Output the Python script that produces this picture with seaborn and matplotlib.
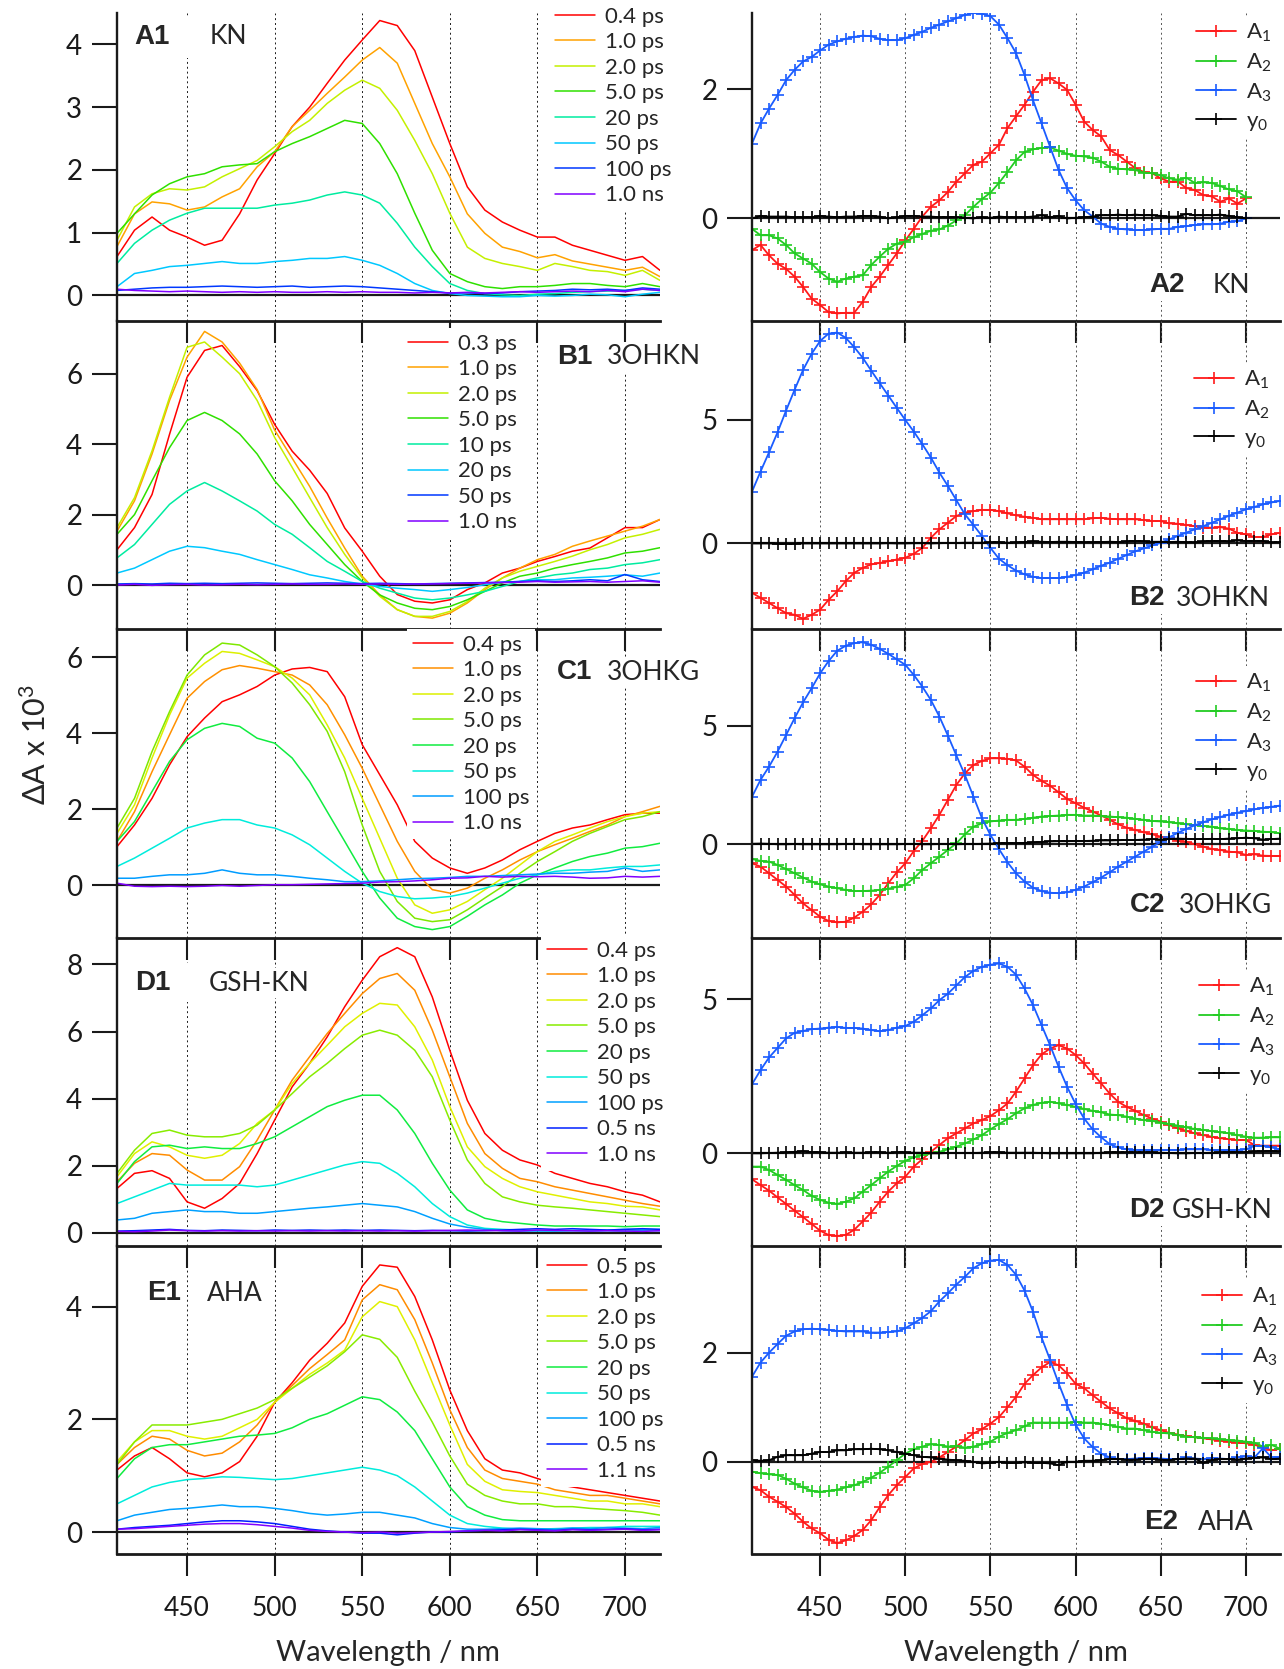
import numpy as np
import matplotlib
matplotlib.use("Agg")
import matplotlib.pyplot as plt
from matplotlib.patches import Rectangle
import seaborn as sns

# ---------------- data ----------------
wl10 = np.arange(410, 721, 10)   # left panels, transient spectra
wl5 = np.arange(410, 721, 5)     # right panels, DAS components
xticks = [450, 500, 550, 600, 650, 700]

# A1 KN
a1_labels = ["0.4 ps", "1.0 ps", "2.0 ps", "5.0 ps", "20 ps", "50 ps", "100 ps", "1.0 ns"]
a1_r = [0.62, 1.04, 1.25, 1.04, 0.93, 0.8, 0.88, 1.3, 1.84, 2.26, 2.69, 3.0, 3.38, 3.75, 4.07, 4.38, 4.3, 3.9, 3.16, 2.42, 1.73, 1.36, 1.17, 1.04, 0.93, 0.93, 0.8, 0.72, 0.64, 0.56, 0.62, 0.4]
a1_o = [0.78, 1.3, 1.49, 1.46, 1.36, 1.41, 1.57, 1.7, 2.05, 2.29, 2.69, 2.95, 3.22, 3.48, 3.75, 3.95, 3.7, 3.06, 2.42, 1.89, 1.3, 0.99, 0.77, 0.7, 0.6, 0.65, 0.55, 0.5, 0.45, 0.4, 0.45, 0.3]
a1_y = [0.88, 1.41, 1.62, 1.7, 1.68, 1.73, 1.89, 2.02, 2.15, 2.37, 2.61, 2.79, 3.06, 3.27, 3.43, 3.3, 2.95, 2.47, 1.94, 1.31, 0.77, 0.59, 0.51, 0.46, 0.4, 0.51, 0.46, 0.4, 0.38, 0.32, 0.4, 0.24]
a1_g = [0.99, 1.3, 1.6, 1.78, 1.89, 1.94, 2.05, 2.08, 2.1, 2.29, 2.42, 2.53, 2.66, 2.79, 2.74, 2.42, 1.94, 1.31, 0.72, 0.35, 0.22, 0.14, 0.11, 0.14, 0.14, 0.16, 0.19, 0.19, 0.16, 0.14, 0.19, 0.14]
a1_t = [0.51, 0.83, 1.04, 1.2, 1.31, 1.39, 1.39, 1.39, 1.39, 1.44, 1.47, 1.52, 1.6, 1.65, 1.6, 1.47, 1.15, 0.77, 0.46, 0.19, 0.08, 0.03, 0.01, 0.0, 0.02, 0.03, 0.05, 0.06, 0.07, 0.08, 0.1, 0.08]
a1_c = [0.14, 0.35, 0.4, 0.46, 0.48, 0.51, 0.54, 0.51, 0.51, 0.54, 0.56, 0.59, 0.59, 0.62, 0.56, 0.48, 0.35, 0.19, 0.08, 0.03, 0.0, -0.01, -0.02, -0.02, 0.0, -0.01, 0.0, 0.02, 0.01, -0.02, 0.02, 0.05]
a1_b = [0.08, 0.1, 0.12, 0.13, 0.13, 0.14, 0.15, 0.14, 0.13, 0.14, 0.15, 0.13, 0.14, 0.15, 0.14, 0.12, 0.1, 0.08, 0.06, 0.04, 0.04, 0.03, 0.04, 0.06, 0.07, 0.08, 0.1, 0.09, 0.1, 0.08, 0.12, 0.1]
a1_v = [0.1, 0.08, 0.07, 0.06, 0.07, 0.06, 0.05, 0.06, 0.05, 0.06, 0.05, 0.05, 0.06, 0.05, 0.06, 0.05, 0.05, 0.04, 0.05, 0.04, 0.05, 0.04, 0.05, 0.06, 0.05, 0.06, 0.07, 0.06, 0.08, 0.06, 0.1, 0.08]

# B1 3OHKN
b1_labels = ["0.3 ps", "1.0 ps", "2.0 ps", "5.0 ps", "10 ps", "20 ps", "50 ps", "1.0 ns"]
b1_r = [1.0, 1.63, 2.57, 4.28, 5.9, 6.66, 6.8, 6.2, 5.52, 4.56, 3.8, 3.26, 2.6, 1.62, 0.96, 0.25, -0.27, -0.46, -0.51, -0.42, -0.13, 0.06, 0.34, 0.48, 0.67, 0.81, 0.96, 1.05, 1.34, 1.63, 1.63, 1.86]
b1_o = [1.53, 2.39, 3.72, 5.24, 6.47, 7.2, 6.9, 6.3, 5.55, 4.4, 3.6, 2.8, 1.9, 1.05, 0.25, -0.28, -0.7, -0.89, -0.94, -0.8, -0.51, -0.13, 0.2, 0.48, 0.72, 0.87, 1.1, 1.25, 1.39, 1.53, 1.67, 1.86]
b1_y = [1.63, 2.48, 3.81, 5.33, 6.75, 6.9, 6.47, 6.0, 5.24, 4.19, 3.34, 2.48, 1.63, 0.87, 0.2, -0.32, -0.7, -0.89, -0.89, -0.75, -0.47, -0.09, 0.2, 0.39, 0.53, 0.67, 0.82, 1.0, 1.15, 1.34, 1.44, 1.58]
b1_g = [1.44, 2.0, 2.96, 3.9, 4.67, 4.9, 4.67, 4.29, 3.72, 2.96, 2.39, 1.72, 1.15, 0.58, 0.1, -0.28, -0.51, -0.66, -0.7, -0.61, -0.42, -0.18, 0.06, 0.25, 0.34, 0.48, 0.58, 0.67, 0.77, 0.91, 0.96, 1.06]
b1_t = [0.77, 1.15, 1.72, 2.29, 2.67, 2.91, 2.67, 2.39, 2.1, 1.72, 1.44, 1.06, 0.67, 0.39, 0.1, -0.09, -0.23, -0.37, -0.42, -0.37, -0.28, -0.18, -0.04, 0.1, 0.2, 0.29, 0.34, 0.44, 0.48, 0.58, 0.63, 0.72]
b1_c = [0.34, 0.48, 0.72, 0.96, 1.1, 1.06, 0.96, 0.87, 0.72, 0.58, 0.44, 0.29, 0.2, 0.1, 0.03, -0.04, -0.09, -0.13, -0.18, -0.13, -0.07, 0.01, 0.08, 0.1, 0.15, 0.15, 0.2, 0.22, 0.25, 0.29, 0.25, 0.34]
b1_b = [0.03, 0.04, 0.03, 0.05, 0.04, 0.05, 0.04, 0.05, 0.06, 0.05, 0.04, 0.05, 0.06, 0.05, 0.04, 0.05, 0.04, 0.03, 0.04, 0.05, 0.06, 0.07, 0.08, 0.1, 0.12, 0.1, 0.12, 0.15, 0.12, 0.3, 0.15, 0.1]
b1_v = [0.0, 0.02, -0.01, 0.01, 0.02, 0.0, 0.01, 0.02, 0.01, 0.02, 0.03, 0.02, 0.02, 0.03, 0.02, 0.03, 0.02, 0.03, 0.03, 0.04, 0.05, 0.06, 0.07, 0.08, 0.1, 0.08, 0.09, 0.1, 0.08, 0.1, 0.12, 0.08]

# C1 3OHKG
c1_labels = ["0.4 ps", "1.0 ps", "2.0 ps", "5.0 ps", "20 ps", "50 ps", "100 ps", "1.0 ns"]
c1_r = [1.02, 1.59, 2.29, 3.17, 3.91, 4.4, 4.83, 5.01, 5.23, 5.53, 5.69, 5.73, 5.62, 4.96, 3.7, 2.91, 2.12, 1.16, 0.72, 0.46, 0.32, 0.46, 0.67, 0.94, 1.16, 1.37, 1.51, 1.59, 1.73, 1.86, 1.9, 1.9]
c1_o = [1.16, 1.94, 2.99, 3.96, 4.92, 5.36, 5.67, 5.78, 5.71, 5.62, 5.53, 5.27, 4.75, 3.96, 3.08, 2.12, 1.16, 0.37, -0.11, -0.2, -0.07, 0.19, 0.41, 0.67, 0.89, 1.07, 1.24, 1.42, 1.59, 1.81, 1.94, 2.08]
c1_y = [1.37, 2.12, 3.35, 4.48, 5.45, 5.84, 6.15, 6.1, 5.93, 5.75, 5.45, 5.01, 4.22, 3.35, 2.29, 1.24, 0.19, -0.51, -0.73, -0.64, -0.42, -0.11, 0.19, 0.54, 0.89, 1.16, 1.33, 1.51, 1.68, 1.81, 1.9, 1.94]
c1_l = [1.51, 2.29, 3.52, 4.57, 5.53, 6.06, 6.37, 6.32, 6.06, 5.75, 5.32, 4.75, 4.05, 2.99, 1.59, 0.37, -0.42, -0.86, -0.95, -0.9, -0.64, -0.33, -0.03, 0.32, 0.63, 0.89, 1.16, 1.37, 1.55, 1.73, 1.81, 1.94]
c1_g = [1.16, 1.68, 2.47, 3.26, 3.83, 4.13, 4.26, 4.18, 3.87, 3.74, 3.35, 2.73, 1.94, 1.16, 0.37, -0.33, -0.86, -1.08, -1.16, -1.08, -0.81, -0.51, -0.25, 0.06, 0.28, 0.46, 0.63, 0.76, 0.85, 0.98, 1.02, 1.11]
c1_c = [0.5, 0.72, 0.98, 1.24, 1.51, 1.64, 1.73, 1.73, 1.59, 1.51, 1.33, 1.07, 0.72, 0.37, 0.06, -0.16, -0.29, -0.35, -0.33, -0.29, -0.2, -0.07, 0.06, 0.19, 0.28, 0.37, 0.41, 0.41, 0.46, 0.5, 0.5, 0.54]
c1_s = [0.19, 0.19, 0.24, 0.28, 0.28, 0.32, 0.41, 0.32, 0.28, 0.28, 0.24, 0.19, 0.15, 0.1, 0.1, 0.12, 0.15, 0.18, 0.19, 0.21, 0.24, 0.24, 0.26, 0.28, 0.3, 0.32, 0.32, 0.35, 0.37, 0.46, 0.37, 0.41]
c1_v = [0.06, -0.02, -0.03, -0.02, -0.03, -0.02, 0.0, -0.02, 0.0, 0.02, 0.02, 0.03, 0.04, 0.05, 0.06, 0.09, 0.1, 0.12, 0.15, 0.19, 0.2, 0.24, 0.22, 0.24, 0.23, 0.24, 0.22, 0.19, 0.2, 0.24, 0.22, 0.24]

# D1 GSH-KN
d1_labels = ["0.4 ps", "1.0 ps", "2.0 ps", "5.0 ps", "20 ps", "50 ps", "100 ps", "0.5 ns", "1.0 ns"]
d1_r = [1.32, 1.77, 1.85, 1.62, 0.92, 0.73, 1.02, 1.47, 2.36, 3.36, 4.35, 5.05, 5.84, 6.74, 7.53, 8.23, 8.5, 8.23, 7.03, 5.44, 3.95, 2.96, 2.46, 2.17, 2.02, 1.77, 1.62, 1.47, 1.37, 1.22, 1.12, 0.92]
d1_o = [1.52, 2.07, 2.36, 2.31, 1.87, 1.57, 1.57, 1.97, 2.76, 3.66, 4.55, 5.25, 5.94, 6.54, 7.13, 7.58, 7.73, 7.23, 6.04, 4.65, 3.26, 2.36, 1.92, 1.62, 1.52, 1.37, 1.27, 1.17, 1.07, 0.97, 0.87, 0.79]
d1_y = [1.67, 2.36, 2.71, 2.56, 2.31, 2.22, 2.31, 2.66, 3.26, 3.66, 4.45, 5.05, 5.59, 6.14, 6.54, 6.84, 6.79, 6.14, 5.15, 3.76, 2.56, 1.97, 1.62, 1.37, 1.22, 1.12, 1.02, 0.92, 0.87, 0.79, 0.77, 0.68]
d1_l = [1.77, 2.46, 2.96, 3.06, 2.91, 2.86, 2.86, 2.96, 3.21, 3.66, 4.15, 4.65, 5.05, 5.49, 5.89, 6.04, 5.89, 5.44, 4.65, 3.36, 2.17, 1.47, 1.07, 0.92, 0.82, 0.77, 0.73, 0.68, 0.63, 0.58, 0.53, 0.48]
d1_g = [1.47, 2.12, 2.56, 2.61, 2.51, 2.56, 2.51, 2.51, 2.66, 2.86, 3.16, 3.46, 3.76, 3.95, 4.1, 4.1, 3.66, 2.96, 2.07, 1.27, 0.68, 0.43, 0.33, 0.28, 0.23, 0.2, 0.2, 0.2, 0.2, 0.18, 0.2, 0.2]
d1_a = [0.87, 1.07, 1.27, 1.47, 1.42, 1.42, 1.42, 1.42, 1.37, 1.42, 1.57, 1.72, 1.87, 2.02, 2.12, 2.07, 1.77, 1.37, 0.87, 0.48, 0.23, 0.13, 0.1, 0.08, 0.07, 0.06, 0.07, 0.08, 0.08, 0.1, 0.1, 0.1]
d1_s = [0.38, 0.43, 0.58, 0.63, 0.68, 0.63, 0.63, 0.58, 0.58, 0.63, 0.68, 0.73, 0.77, 0.82, 0.87, 0.82, 0.77, 0.63, 0.43, 0.26, 0.16, 0.1, 0.06, 0.05, 0.05, 0.05, 0.06, 0.05, 0.06, 0.05, 0.07, 0.06]
d1_b = [0.05, 0.06, 0.08, 0.1, 0.07, 0.06, 0.08, 0.07, 0.06, 0.08, 0.07, 0.08, 0.07, 0.08, 0.07, 0.08, 0.07, 0.06, 0.07, 0.06, 0.05, 0.06, 0.08, 0.1, 0.12, 0.1, 0.12, 0.1, 0.08, 0.1, 0.12, 0.1]
d1_v = [0.04, 0.03, 0.05, 0.08, 0.06, 0.05, 0.06, 0.05, 0.06, 0.05, 0.06, 0.05, 0.06, 0.05, 0.06, 0.05, 0.06, 0.05, 0.06, 0.07, 0.08, 0.07, 0.06, 0.05, 0.08, 0.07, 0.06, 0.05, 0.06, 0.05, 0.04, 0.06]

# E1 AHA
e1_labels = ["0.5 ps", "1.0 ps", "2.0 ps", "5.0 ps", "20 ps", "50 ps", "100 ps", "0.5 ns", "1.1 ns"]
e1_r = [1.1, 1.35, 1.5, 1.3, 1.05, 0.98, 1.05, 1.25, 1.7, 2.3, 2.65, 3.05, 3.35, 3.71, 4.36, 4.74, 4.7, 4.18, 3.41, 2.52, 1.8, 1.3, 1.1, 1.05, 0.95, 0.85, 0.8, 0.75, 0.7, 0.65, 0.6, 0.55]
e1_o = [1.2, 1.5, 1.7, 1.65, 1.45, 1.35, 1.4, 1.6, 1.9, 2.3, 2.6, 2.9, 3.15, 3.41, 4.12, 4.39, 4.3, 3.77, 3.0, 2.17, 1.5, 1.1, 0.95, 0.9, 0.85, 0.75, 0.7, 0.65, 0.65, 0.6, 0.55, 0.5]
e1_y = [1.25, 1.6, 1.8, 1.8, 1.7, 1.65, 1.7, 1.85, 2.0, 2.3, 2.55, 2.8, 3.0, 3.23, 3.82, 4.09, 4.0, 3.41, 2.65, 1.9, 1.2, 0.9, 0.75, 0.72, 0.7, 0.65, 0.6, 0.55, 0.55, 0.5, 0.5, 0.45]
e1_l = [1.2, 1.6, 1.9, 1.9, 1.9, 1.95, 2.0, 2.1, 2.2, 2.35, 2.55, 2.75, 2.95, 3.2, 3.5, 3.42, 3.1, 2.5, 1.95, 1.35, 0.85, 0.65, 0.55, 0.5, 0.5, 0.45, 0.45, 0.42, 0.4, 0.38, 0.35, 0.3]
e1_g = [0.95, 1.3, 1.5, 1.55, 1.55, 1.6, 1.65, 1.7, 1.72, 1.75, 1.85, 2.0, 2.1, 2.25, 2.4, 2.35, 2.13, 1.8, 1.3, 0.8, 0.45, 0.3, 0.22, 0.2, 0.2, 0.2, 0.2, 0.2, 0.2, 0.2, 0.2, 0.2]
e1_a = [0.5, 0.65, 0.8, 0.88, 0.93, 0.95, 0.98, 0.97, 0.95, 0.93, 0.95, 1.0, 1.05, 1.1, 1.15, 1.1, 1.0, 0.8, 0.55, 0.3, 0.15, 0.1, 0.07, 0.05, 0.05, 0.06, 0.07, 0.08, 0.08, 0.1, 0.1, 0.1]
e1_s = [0.2, 0.3, 0.35, 0.4, 0.42, 0.45, 0.48, 0.45, 0.45, 0.42, 0.38, 0.33, 0.3, 0.32, 0.35, 0.35, 0.3, 0.25, 0.15, 0.08, 0.05, 0.05, 0.06, 0.07, 0.06, 0.05, 0.07, 0.06, 0.08, 0.07, 0.06, 0.08]
e1_b = [0.05, 0.08, 0.1, 0.12, 0.15, 0.18, 0.2, 0.2, 0.18, 0.15, 0.1, 0.05, 0.02, 0.0, -0.02, -0.02, -0.05, -0.02, 0.0, 0.0, 0.02, 0.03, 0.04, 0.05, 0.04, 0.03, 0.05, 0.04, 0.05, 0.06, 0.04, 0.05]
e1_v = [0.05, 0.06, 0.08, 0.1, 0.12, 0.14, 0.15, 0.15, 0.13, 0.1, 0.07, 0.03, 0.01, 0.0, -0.01, 0.0, -0.02, -0.01, 0.0, 0.01, 0.02, 0.03, 0.02, 0.04, 0.03, 0.02, 0.04, 0.03, 0.04, 0.05, 0.03, 0.04]

# A2 KN (410-700 nm)
a2_A1 = [-0.49, -0.41, -0.57, -0.7, -0.78, -0.9, -1.06, -1.24, -1.34, -1.45,
         -1.47, -1.46, -1.46, -1.29, -1.06, -0.9, -0.72, -0.54, -0.34, -0.16,
         0.03, 0.18, 0.28, 0.41, 0.57, 0.7, 0.83, 0.88, 1.01, 1.14,
         1.4, 1.58, 1.76, 1.96, 2.14, 2.17, 2.09, 1.99, 1.76, 1.5,
         1.37, 1.27, 1.06, 0.98, 0.88, 0.78, 0.72, 0.7, 0.62, 0.57,
         0.57, 0.47, 0.44, 0.36, 0.34, 0.26, 0.31, 0.23, 0.31]
a2_A2 = [-0.16, -0.26, -0.26, -0.31, -0.41, -0.54, -0.62, -0.7, -0.83, -0.93,
         -0.98, -0.93, -0.9, -0.88, -0.72, -0.59, -0.47, -0.39, -0.36, -0.29,
         -0.24, -0.19, -0.17, -0.11, -0.03, 0.05, 0.18, 0.3, 0.4, 0.55,
         0.72, 0.9, 1.03, 1.07, 1.09, 1.1, 1.05, 1.0, 0.97, 0.96,
         0.94, 0.88, 0.8, 0.77, 0.76, 0.75, 0.71, 0.7, 0.67, 0.62,
         0.6, 0.63, 0.55, 0.56, 0.55, 0.5, 0.45, 0.42, 0.33]
a2_A3 = [1.16, 1.47, 1.7, 1.91, 2.14, 2.3, 2.43, 2.5, 2.6, 2.69,
         2.74, 2.78, 2.81, 2.83, 2.82, 2.78, 2.76, 2.76, 2.79, 2.84,
         2.89, 2.95, 3.0, 3.05, 3.1, 3.15, 3.18, 3.17, 3.13, 3.0,
         2.79, 2.56, 2.22, 1.83, 1.47, 1.11, 0.75, 0.47, 0.28, 0.13,
         0.03, -0.08, -0.13, -0.16, -0.17, -0.18, -0.18, -0.17, -0.16, -0.16,
         -0.13, -0.12, -0.1, -0.09, -0.09, -0.08, -0.05, -0.04, 0.0]
a2_y0 = [0.0, 0.04, 0.03, 0.03, 0.03, 0.02, 0.02, 0.02, 0.04, 0.03,
         0.02, 0.03, 0.03, 0.04, 0.04, 0.03, 0.0, 0.02, 0.04, 0.04,
         0.03, 0.03, 0.02, 0.02, 0.02, 0.01, 0.0, 0.02, 0.01, 0.03,
         0.02, 0.02, 0.02, 0.03, 0.05, 0.02, 0.04, 0.0, 0.01, 0.02,
         0.03, 0.05, 0.05, 0.06, 0.05, 0.06, 0.05, 0.05, 0.04, 0.03,
         0.03, 0.07, 0.05, 0.05, 0.05, 0.06, 0.04, 0.02, 0.0]

# B2 3OHKN
b2_A1 = [-2.0, -2.2, -2.41, -2.62, -2.82, -2.89, -3.05, -2.89, -2.68, -2.28,
         -1.94, -1.53, -1.19, -0.99, -0.85, -0.79, -0.72, -0.65, -0.58, -0.42,
         -0.18, 0.23, 0.57, 0.84, 1.11, 1.25, 1.31, 1.36, 1.36, 1.31,
         1.22, 1.14, 1.08, 1.04, 0.98, 0.98, 0.98, 0.98, 0.98, 0.98,
         1.02, 1.04, 1.0, 0.98, 0.98, 0.98, 0.95, 0.91, 0.91, 0.81,
         0.8, 0.75, 0.7, 0.64, 0.64, 0.66, 0.6, 0.43, 0.37, 0.26,
         0.26, 0.37, 0.43]
b2_A2 = [2.1, 2.91, 3.69, 4.5, 5.38, 6.22, 7.03, 7.68, 8.2, 8.5,
         8.54, 8.33, 7.95, 7.52, 7.0, 6.49, 5.99, 5.49, 5.0, 4.53,
         4.02, 3.48, 2.87, 2.33, 1.75, 1.18, 0.75, 0.3, -0.18, -0.62,
         -0.88, -1.1, -1.25, -1.35, -1.4, -1.4, -1.4, -1.35, -1.28, -1.18,
         -1.05, -0.9, -0.78, -0.62, -0.47, -0.32, -0.2, -0.08, 0.03, 0.17,
         0.3, 0.44, 0.57, 0.7, 0.84, 0.98, 1.12, 1.25, 1.38, 1.48,
         1.58, 1.66, 1.72]
b2_y0 = [0.0, 0.0, 0.0, -0.01, -0.01, -0.01, 0.0, 0.0, 0.0, 0.0,
         0.0, 0.0, 0.0, 0.0, 0.0, 0.0, 0.01, 0.0, 0.0, 0.01,
         0.01, 0.0, 0.01, 0.02, 0.02, 0.03, 0.03, 0.03, 0.04, 0.05,
         0.03, 0.04, 0.06, 0.08, 0.07, 0.06, 0.07, 0.07, 0.06, 0.05,
         0.05, 0.06, 0.07, 0.06, 0.08, 0.1, 0.09, 0.07, 0.07, 0.06,
         0.07, 0.05, 0.04, 0.08, 0.1, 0.1, 0.08, 0.12, 0.1, 0.1,
         0.1, 0.04, 0.05]

# C2 3OHKG
c2_A1 = [-0.8, -0.94, -1.22, -1.5, -1.78, -2.13, -2.49, -2.77, -3.05, -3.23,
         -3.29, -3.26, -3.09, -2.84, -2.53, -2.13, -1.64, -1.18, -0.8, -0.28,
         0.14, 0.67, 1.24, 1.87, 2.5, 2.99, 3.34, 3.51, 3.62, 3.62,
         3.6, 3.53, 3.27, 2.92, 2.67, 2.47, 2.19, 1.91, 1.73, 1.54,
         1.38, 1.21, 1.03, 0.84, 0.7, 0.6, 0.51, 0.42, 0.32, 0.25,
         0.15, 0.11, 0.0, -0.1, -0.2, -0.24, -0.31, -0.34, -0.45, -0.42,
         -0.48, -0.49, -0.49]
c2_A2 = [-0.62, -0.7, -0.73, -0.87, -1.04, -1.22, -1.4, -1.57, -1.69, -1.78,
         -1.85, -1.92, -1.97, -1.97, -1.95, -1.92, -1.87, -1.8, -1.71, -1.43,
         -1.08, -0.8, -0.52, -0.24, 0.04, 0.42, 0.74, 0.88, 0.96, 1.0,
         1.03, 1.03, 1.07, 1.12, 1.17, 1.19, 1.21, 1.24, 1.24, 1.21,
         1.21, 1.19, 1.17, 1.14, 1.12, 1.07, 1.03, 0.98, 0.96, 0.93,
         0.88, 0.84, 0.81, 0.77, 0.74, 0.67, 0.65, 0.6, 0.58, 0.56,
         0.53, 0.51, 0.46]
c2_A3 = [2.0, 2.71, 3.27, 3.9, 4.6, 5.31, 5.98, 6.57, 7.2, 7.72,
         8.15, 8.36, 8.47, 8.51, 8.4, 8.23, 8.02, 7.79, 7.56, 7.13,
         6.64, 6.08, 5.38, 4.58, 3.74, 2.92, 2.01, 1.1, 0.39, -0.2,
         -0.76, -1.22, -1.57, -1.83, -1.97, -2.04, -2.06, -2.02, -1.92, -1.78,
         -1.6, -1.4, -1.18, -0.94, -0.73, -0.52, -0.31, -0.1, 0.1, 0.3,
         0.48, 0.65, 0.8, 0.93, 1.05, 1.15, 1.25, 1.33, 1.4, 1.47,
         1.53, 1.58, 1.63]
c2_y0 = [0.02, 0.03, 0.02, 0.0, 0.0, 0.01, 0.0, 0.0, 0.0, 0.0,
         0.0, 0.01, 0.02, 0.0, 0.0, 0.0, 0.0, 0.0, 0.01, 0.01,
         0.0, 0.0, 0.01, 0.01, 0.0, 0.01, 0.01, 0.02, 0.03, 0.04,
         0.05, 0.05, 0.06, 0.08, 0.1, 0.12, 0.13, 0.13, 0.14, 0.14,
         0.15, 0.16, 0.16, 0.17, 0.18, 0.18, 0.2, 0.22, 0.2, 0.22,
         0.24, 0.23, 0.22, 0.22, 0.23, 0.22, 0.24, 0.25, 0.28, 0.25,
         0.2, 0.22, 0.24]

# D2 GSH-KN
d2_A1 = [-0.84, -1.03, -1.21, -1.43, -1.64, -1.86, -2.07, -2.29, -2.51, -2.65,
         -2.68, -2.65, -2.48, -2.21, -1.92, -1.57, -1.24, -0.97, -0.76, -0.43,
         -0.19, 0.05, 0.27, 0.49, 0.65, 0.81, 0.97, 1.08, 1.21, 1.4,
         1.62, 2.0, 2.43, 2.86, 3.21, 3.4, 3.51, 3.4, 3.19, 2.92,
         2.59, 2.27, 1.94, 1.67, 1.51, 1.38, 1.24, 1.13, 1.03, 0.92,
         0.81, 0.73, 0.65, 0.59, 0.54, 0.49, 0.46, 0.43, 0.43, 0.27,
         0.25, 0.25, 0.25]
d2_A2 = [-0.43, -0.43, -0.54, -0.7, -0.86, -1.03, -1.19, -1.38, -1.51, -1.6,
         -1.64, -1.57, -1.46, -1.24, -1.03, -0.81, -0.59, -0.41, -0.24, -0.13,
         -0.05, 0.0, 0.05, 0.13, 0.22, 0.32, 0.45, 0.59, 0.78, 0.95,
         1.11, 1.3, 1.46, 1.57, 1.64, 1.67, 1.62, 1.57, 1.51, 1.44,
         1.38, 1.33, 1.26, 1.24, 1.19, 1.13, 1.08, 1.05, 1.0, 0.95,
         0.9, 0.84, 0.79, 0.76, 0.72, 0.68, 0.65, 0.59, 0.54, 0.51,
         0.51, 0.52, 0.52]
d2_A3 = [2.24, 2.7, 3.11, 3.42, 3.73, 3.91, 3.97, 4.03, 4.05, 4.08,
         4.1, 4.07, 4.07, 4.05, 4.0, 3.96, 4.0, 4.08, 4.13, 4.27,
         4.48, 4.7, 4.97, 5.18, 5.45, 5.72, 5.92, 6.05, 6.12, 6.16,
         6.05, 5.8, 5.35, 4.81, 4.16, 3.51, 2.81, 2.16, 1.6, 1.13,
         0.78, 0.52, 0.3, 0.19, 0.13, 0.11, 0.11, 0.11, 0.11, 0.11,
         0.11, 0.13, 0.13, 0.13, 0.11, 0.11, 0.11, 0.11, 0.13, 0.24,
         0.24, 0.19, 0.13]
d2_y0 = [0.0, 0.0, 0.01, 0.02, 0.03, 0.05, 0.07, 0.04, 0.03, 0.02,
         0.02, 0.03, 0.02, 0.02, 0.03, 0.03, 0.02, 0.03, 0.03, 0.02,
         0.02, 0.0, 0.0, 0.01, 0.01, 0.01, 0.01, 0.02, 0.03, 0.03,
         0.02, 0.02, 0.02, 0.02, 0.01, 0.0, 0.0, 0.0, 0.0, 0.0,
         0.0, 0.02, 0.03, 0.03, 0.03, 0.03, 0.03, 0.03, 0.02, 0.01,
         0.0, 0.0, 0.01, 0.01, 0.02, 0.03, 0.04, 0.04, 0.04, 0.06,
         0.07, 0.08, 0.06]

# E2 AHA
e2_A1 = [-0.46, -0.52, -0.64, -0.73, -0.83, -0.95, -1.1, -1.22, -1.31, -1.43,
         -1.49, -1.44, -1.36, -1.25, -1.07, -0.83, -0.61, -0.43, -0.28, -0.12,
         -0.04, 0.0, 0.08, 0.18, 0.28, 0.4, 0.52, 0.6, 0.7, 0.82,
         1.0, 1.19, 1.43, 1.59, 1.73, 1.83, 1.77, 1.62, 1.43, 1.35,
         1.22, 1.1, 0.98, 0.89, 0.8, 0.75, 0.7, 0.63, 0.58, 0.53,
         0.5, 0.47, 0.45, 0.43, 0.41, 0.39, 0.37, 0.35, 0.34, 0.31,
         0.27, 0.21, 0.24]
e2_A2 = [-0.18, -0.21, -0.23, -0.24, -0.31, -0.4, -0.47, -0.53, -0.55, -0.53,
         -0.51, -0.47, -0.43, -0.37, -0.29, -0.2, -0.09, 0.03, 0.15, 0.23,
         0.28, 0.32, 0.31, 0.28, 0.29, 0.26, 0.28, 0.32, 0.37, 0.46,
         0.53, 0.58, 0.65, 0.72, 0.72, 0.72, 0.72, 0.72, 0.73, 0.72,
         0.72, 0.7, 0.67, 0.64, 0.61, 0.61, 0.58, 0.55, 0.53, 0.52,
         0.49, 0.46, 0.45, 0.44, 0.43, 0.41, 0.4, 0.39, 0.37, 0.35,
         0.28, 0.31, 0.24]
e2_A3 = [1.56, 1.82, 2.0, 2.16, 2.31, 2.39, 2.43, 2.44, 2.43, 2.42,
         2.4, 2.39, 2.39, 2.39, 2.37, 2.37, 2.38, 2.39, 2.45, 2.54,
         2.64, 2.76, 2.94, 3.09, 3.25, 3.39, 3.55, 3.64, 3.69, 3.7,
         3.61, 3.43, 3.14, 2.75, 2.28, 1.87, 1.44, 1.04, 0.68, 0.43,
         0.27, 0.15, 0.08, 0.05, 0.05, 0.06, 0.07, 0.07, 0.06, 0.05,
         0.05, 0.08, 0.06, 0.05, 0.07, 0.06, 0.05, 0.08, 0.1, 0.08,
         0.25, 0.08, 0.09]
e2_y0 = [0.03, 0.02, 0.03, 0.09, 0.12, 0.12, 0.12, 0.15, 0.18, 0.18,
         0.21, 0.21, 0.23, 0.23, 0.24, 0.23, 0.21, 0.18, 0.15, 0.12,
         0.09, 0.08, 0.06, 0.04, 0.03, 0.02, 0.0, -0.03, -0.02, 0.0,
         -0.02, -0.02, -0.01, -0.02, -0.02, -0.03, -0.06, 0.0, 0.0, 0.02,
         0.02, 0.03, 0.05, 0.05, 0.04, 0.04, 0.05, 0.05, 0.04, 0.03,
         0.05, 0.06, 0.06, -0.02, 0.03, 0.05, 0.05, 0.04, 0.06, 0.07,
         0.08, 0.05, 0.06]

# ---------------- style ----------------
pal8_ab = ["#ff0000", "#ffa200", "#c4f000", "#2fe000", "#00eca0", "#00c8ff", "#0038ff", "#8000ff"]
pal8_c = ["#ff0000", "#ff9000", "#dcf000", "#7ee800", "#10ec40", "#00ecdc", "#009cff", "#8000ff"]
pal9 = ["#ff0000", "#ff8c00", "#e0f000", "#88ec00", "#10ec40", "#00ecdc", "#00a0ff", "#0020ff", "#8000ff"]
das_colors = {"A$_1$": "#ff1a1a", "A$_2$": "#22cc22", "A$_3$": "#1a5cff", "y$_0$": "black"}
b2_colors = {"A$_1$": "#ff1a1a", "A$_2$": "#1a5cff", "y$_0$": "black"}

sns.set_theme(style="white")
plt.rcParams["font.family"] = ["Lato", "DejaVu Sans"]
plt.rcParams["mathtext.fontset"] = "custom"
plt.rcParams["mathtext.rm"] = "Lato"
plt.rcParams["mathtext.it"] = "Lato:italic"
plt.rcParams["mathtext.bf"] = "Lato:bold"

W, H = 1284, 1669
fig = plt.figure(figsize=(W / 100, H / 100), dpi=100)


def fx(px):
    return px / W


def fy(py):
    return 1 - py / H


PH = 308.2
tops = [13, 13 + PH, 13 + 2 * PH, 13 + 3 * PH, 13 + 4 * PH]


def style_axis(ax, ylim, yticks, bottom, gridcolor):
    ax.set_facecolor("none")
    ax.set_xlim(410, 720)
    ax.set_ylim(*ylim)
    ax.set_xticks(xticks)
    ax.set_yticks(yticks)
    for s in ["top", "right"]:
        ax.spines[s].set_visible(False)
    ax.spines["left"].set_linewidth(1.7)
    ax.spines["bottom"].set_linewidth(2.0)
    ax.spines["left"].set_color("k")
    ax.spines["bottom"].set_color("k")
    ax.tick_params(axis="y", left=True, direction="out", length=18, width=1.5,
                   labelsize=20, pad=7, colors="k")
    ax.tick_params(axis="x", bottom=True, direction="out", length=16, width=1.5,
                   labelsize=19, pad=14, colors="k", labelbottom=bottom)
    ax.grid(True, axis="x", color=gridcolor, ls=(0, (2, 3)), lw=0.7)
    ax.grid(False, axis="y")
    ax.set_axisbelow(True)
    ax.axhline(0, color="k", lw=1.6, zorder=1.5)
    ax.set_xlabel("")
    ax.set_ylabel("")


def add_legend(ax, x0, y0, labelspacing):
    ax.legend(loc="upper left", bbox_to_anchor=(fx(x0), fy(y0)),
              bbox_transform=fig.transFigure, borderaxespad=0, borderpad=0.25,
              frameon=True, fancybox=False, edgecolor="none", facecolor="white",
              framealpha=1, handlelength=1.8, handletextpad=0.45,
              labelspacing=labelspacing, fontsize=16)


def panel_label(x_bold, y, bold, x_name, name):
    fig.text(fx(x_bold), fy(y), bold, fontsize=20, fontweight="bold",
             family=["Liberation Sans", "DejaVu Sans"], ha="left", va="center",
             bbox=dict(facecolor="white", edgecolor="none", pad=2))
    fig.text(fx(x_name), fy(y), name, fontsize=19, ha="left", va="center",
             bbox=dict(facecolor="white", edgecolor="none", pad=2))


def white_gap(x0, y0, x1, y1):
    # blank strip between a panel tag and its sample name (hides the grid line)
    fig.add_artist(Rectangle((fx(x0), fy(y1)), (x1 - x0) / W, (y1 - y0) / H,
                             transform=fig.transFigure, facecolor="white",
                             edgecolor="none", zorder=1))


# ---------------- left column ----------------
left_panels = [
    ([a1_r, a1_o, a1_y, a1_g, a1_t, a1_c, a1_b, a1_v], a1_labels, pal8_ab,
     (-0.41, 4.5), [0, 1, 2, 3, 4], (549, 1)),
    ([b1_r, b1_o, b1_y, b1_g, b1_t, b1_c, b1_b, b1_v], b1_labels, pal8_ab,
     (-1.26, 7.49), [0, 2, 4, 6], (402, 328)),
    ([c1_r, c1_o, c1_y, c1_l, c1_g, c1_c, c1_s, c1_v], c1_labels, pal8_c,
     (-1.37, 6.73), [0, 2, 4, 6], (407, 629)),
    ([d1_r, d1_o, d1_y, d1_l, d1_g, d1_a, d1_s, d1_b, d1_v], d1_labels, pal9,
     (-0.39, 8.8), [0, 2, 4, 6, 8], (541, 935)),
    ([e1_r, e1_o, e1_y, e1_l, e1_g, e1_a, e1_s, e1_b, e1_v], e1_labels, pal9,
     (-0.39, 5.08), [0, 2, 4], (541, 1251)),
]

for i, (series, labels, colors, ylim, yticks, legxy) in enumerate(left_panels):
    top = tops[i]
    ax = fig.add_axes([fx(117), fy(top + PH), (660 - 117) / W, PH / H])
    for vals, lab, col in zip(series, labels, colors):
        sns.lineplot(x=wl10, y=vals, ax=ax, color=col, lw=1.1, label=lab)
    style_axis(ax, ylim, yticks, bottom=(i == 4), gridcolor="k")
    add_legend(ax, legxy[0], legxy[1], 0.25)

# ---------------- right column ----------------
right_panels = [
    ({"A$_1$": a2_A1, "A$_2$": a2_A2, "A$_3$": a2_A3, "y$_0$": a2_y0}, wl5[:59],
     (-1.59, 3.18), [0, 2], (1190, 16)),
    ({"A$_1$": b2_A1, "A$_2$": b2_A2, "y$_0$": b2_y0}, wl5,
     (-3.48, 9.0), [0, 5], (1188, 363)),
    ({"A$_1$": c2_A1, "A$_2$": c2_A2, "A$_3$": c2_A3, "y$_0$": c2_y0}, wl5,
     (-3.93, 9.05), [0, 5], (1190, 666)),
    ({"A$_1$": d2_A1, "A$_2$": d2_A2, "A$_3$": d2_A3, "y$_0$": d2_y0}, wl5,
     (-3.0, 7.0), [0, 5], (1193, 970)),
    ({"A$_1$": e2_A1, "A$_2$": e2_A2, "A$_3$": e2_A3, "y$_0$": e2_y0}, wl5,
     (-1.69, 3.96), [0, 2], (1196, 1280)),
]

for i, (comps, xw, ylim, yticks, legxy) in enumerate(right_panels):
    top = tops[i]
    ax = fig.add_axes([fx(752), fy(top + PH), (1280 - 752) / W, PH / H])
    cmap = b2_colors if i == 1 else das_colors
    for lab, vals in comps.items():
        col = cmap[lab]
        sns.lineplot(x=xw, y=vals, ax=ax, color=col, lw=1.3, linestyle="-",
                     marker="+", markersize=8, markeredgewidth=1.2,
                     markeredgecolor=col, markerfacecolor=col, label=lab)
    style_axis(ax, ylim, yticks, bottom=(i == 4), gridcolor="#555555")
    add_legend(ax, legxy[0], legxy[1], 0.34)

# ---------------- labels ----------------
white_gap(168, 16, 212, 58)
white_gap(168, 963, 211, 1002)
panel_label(134, 37, "A1", 210, "KN")
panel_label(557, 357, "B1", 607, "3OHKN")
panel_label(557, 672, "C1", 607, "3OHKG")
panel_label(135, 983, "D1", 209, "GSH-KN")
panel_label(147, 1293, "E1", 207, "AHA")
panel_label(1149, 285, "A2", 1213, "KN")
panel_label(1129, 598, "B2", 1176, "3OHKN")
panel_label(1130, 905, "C2", 1179, "3OHKG")
panel_label(1129, 1210, "D2", 1172, "GSH-KN")
panel_label(1144, 1522, "E2", 1198, "AHA")

fig.text(fx(36), fy(744), "ΔA x 10$^3$", rotation=90, ha="center", va="center", fontsize=22)
fig.text(fx(388), fy(1653), "Wavelength / nm", ha="center", va="center", fontsize=21)
fig.text(fx(1016), fy(1653), "Wavelength / nm", ha="center", va="center", fontsize=21)

fig.savefig("out.png", dpi=100)
